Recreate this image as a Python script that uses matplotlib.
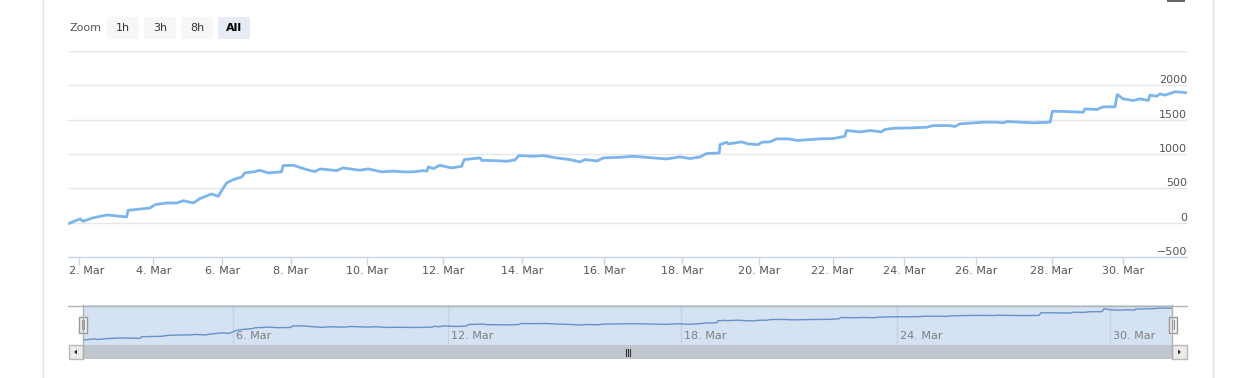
import numpy as np
import matplotlib
matplotlib.use('Agg')
import matplotlib.pyplot as plt
from matplotlib.patches import Rectangle, Polygon
from matplotlib.lines import Line2D

# series: day of March (fractional) and value
days = [1.70, 1.73, 2.02, 2.10, 2.37, 2.74, 3.28, 3.32, 3.91, 4.05, 4.39, 4.68, 4.87, 5.16,
        5.35, 5.69, 5.88, 6.03, 6.13, 6.32, 6.57, 6.66, 6.91, 7.10, 7.34, 7.73, 7.78, 8.07,
        8.42, 8.64, 8.77, 9.21, 9.38, 9.82, 10.04, 10.39, 10.69, 10.95, 11.22, 11.48, 11.57,
        11.61, 11.74, 11.91, 12.21, 12.47, 12.53, 12.94, 12.98, 13.28, 13.62, 13.83, 13.93,
        14.28, 14.52, 14.85, 15.17, 15.41, 15.53, 15.82, 15.98, 16.40, 16.74, 17.26, 17.60,
        17.94, 18.20, 18.46, 18.63, 18.96, 18.98, 19.15, 19.19, 19.54, 19.71, 19.97, 20.07,
        20.29, 20.47, 20.79, 21.06, 21.11, 21.65, 22.02, 22.34, 22.39, 22.76, 23.05, 23.37,
        23.46, 23.70, 24.17, 24.63, 24.82, 25.28, 25.42, 25.56, 26.20, 26.55, 26.73, 26.82,
        27.52, 27.96, 28.02, 28.42, 28.88, 28.93, 29.26, 29.44, 29.77, 29.83, 30.00, 30.27,
        30.46, 30.69, 30.73, 30.92, 31.01, 31.14, 31.42, 31.60, 31.75]
values = [-15, -10, 55, 20, 70, 112, 83, 180, 214, 262, 287, 287, 320, 287,
          350, 418, 383, 506, 579, 627, 666, 725, 740, 763, 725, 740, 831, 836,
          773, 744, 783, 758, 797, 763, 783, 740, 750, 740, 740, 758, 750,
          812, 787, 836, 797, 821, 918, 943, 908, 904, 894, 914, 977,
          967, 977, 943, 918, 885, 918, 899, 943, 952, 967, 943, 928,
          958, 933, 958, 1006, 1016, 1137, 1171, 1147, 1176, 1147, 1137, 1171,
          1176, 1220, 1220, 1196, 1200, 1220, 1225, 1258, 1342, 1322, 1342, 1322,
          1356, 1375, 1380, 1390, 1414, 1414, 1400, 1439, 1463, 1463, 1454, 1473,
          1454, 1463, 1623, 1618, 1608, 1657, 1648, 1687, 1687, 1866, 1803, 1779,
          1803, 1779, 1856, 1842, 1876, 1856, 1906, 1900, 1890]

tick_days = list(range(2, 31, 2))
tick_labels = ['%d. Mar' % d for d in tick_days]
nav_tick_days = [6, 12, 18, 24, 30]
y_ticks = [-500, 0, 500, 1000, 1500, 2000]
zoom_buttons = ['1h', '3h', '8h', 'All']

# highstock ordinal axis: position follows the point count, not the clock
ord_days = [1.7, 2, 4, 6, 8, 10, 12, 14, 16, 18, 20, 22, 24, 26, 28, 30, 31.75]
ord_pos = [0, 11.3, 85.3, 154.3, 222.7, 298.7, 375.3, 453.7, 536.3, 614.3, 691.3,
           764.7, 836.0, 907.7, 983.7, 1055.3, 1119]


def fwd(d):
    return np.interp(d, ord_days, ord_pos)


def inv(o):
    return np.interp(o, ord_pos, ord_days)


W, H = 1257, 378
PT = 72 / 100.0  # points per pixel
fig = plt.figure(figsize=(W / 100, H / 100), dpi=100)
fig.patch.set_facecolor('white')


def box(x0, y0, x1, y1, **kw):
    r = Rectangle((x0 / W, 1 - y1 / H), (x1 - x0) / W, (y1 - y0) / H,
                  transform=fig.transFigure, **kw)
    fig.add_artist(r)
    return r


def hline(x0, x1, y, **kw):
    fig.add_artist(Line2D([x0 / W, x1 / W], [1 - y / H, 1 - y / H],
                          transform=fig.transFigure, **kw))


def vline(x, y0, y1, **kw):
    fig.add_artist(Line2D([x / W, x / W], [1 - y0 / H, 1 - y1 / H],
                          transform=fig.transFigure, **kw))


# container borders
vline(43.5, 0, H, color='#e3e3e3', lw=1)
vline(1212.5, 0, H, color='#e3e3e3', lw=1)
# export menu icon (cut off at top)
box(1167, -2, 1185, 1.5, fc='#666666', ec='none')

# ---- main chart
ax = fig.add_axes([68 / W, 1 - 257 / H, 1119 / W, 206 / H])
ax.set_xscale('function', functions=(fwd, inv))
ax.set_xlim(1.7, 31.75)
ax.set_ylim(-500, 2500)
for v in range(-500, 3000, 500):
    ax.axhline(v, color='#e6e6e6', lw=1, zorder=0)
for v in y_ticks:
    ax.annotate(str(v).replace('-', '\u2212'), xy=(1, v), xycoords=('axes fraction', 'data'),
                xytext=(0, 2 * PT), textcoords='offset points',
                ha='right', va='baseline', fontsize=8, color='#555555')
ax.plot(days, values, color='#7cb5ec', lw=2, solid_joinstyle='round', zorder=3)

for s in ['top', 'left', 'right']:
    ax.spines[s].set_visible(False)
ax.spines['bottom'].set_color('#ccd6eb')
ax.spines['bottom'].set_linewidth(1)
ax.set_yticks([])
ax.set_xticks(tick_days)
ax.set_xticklabels([''] + tick_labels[1:])
ax.xaxis.set_minor_locator(matplotlib.ticker.NullLocator())
ax.tick_params(axis='x', length=8 * PT, width=1, color='#ccd6eb',
               labelcolor='#555555', labelsize=8, pad=1)
# first label is pushed right to stay inside the plot
ax.annotate(tick_labels[0], xy=(0, 0), xycoords='axes fraction',
            xytext=(1 * PT, -(8 + 1.4) * PT), textcoords='offset points',
            ha='left', va='top', fontsize=8, color='#555555')

# ---- range selector
fig.text(69 / W, 1 - 28 / H, 'Zoom', ha='left', va='center', fontsize=8, color='#555555')
bx = 107
for lab in zoom_buttons:
    sel = lab == 'All'
    box(bx, 17, bx + 32, 39, fc='#e6ebf5' if sel else '#f7f7f7', ec='none')
    fig.text((bx + 16) / W, 1 - 28 / H, lab, ha='center', va='center', fontsize=8,
             color='black' if sel else '#333333', fontweight='bold' if sel else 'normal')
    bx += 37

# ---- navigator
nav = fig.add_axes([83 / W, 1 - 345 / H, 1089 / W, 40 / H])
nav.set_facecolor('#d4e2f4')
nav.set_xscale('function', functions=(fwd, inv))
nav.set_xlim(1.7, 31.75)
nav.set_ylim(-315, 2090)
for d in nav_tick_days:
    nav.axvline(d, color='#c3d2e7', lw=1, zorder=1)
    nav.annotate('%d. Mar' % d, xy=(d, 0.225), xycoords=('data', 'axes fraction'),
                 xytext=(3 * PT, 0), textcoords='offset points',
                 ha='left', va='center', fontsize=8, color='#7f7f7f')
nav.plot(days, values, color='#6990c8', lw=1, zorder=3)
nav.set_xticks([])
nav.set_yticks([])
nav.xaxis.set_minor_locator(matplotlib.ticker.NullLocator())
for s in nav.spines.values():
    s.set_visible(False)

# scrollbar
box(83, 345, 1172, 358.5, fc='#bfc6ce', ec='none')
box(68.5, 345, 83, 358.5, fc='#ebebeb', ec='#b8b8b8', lw=1)
box(1172, 345, 1186.5, 358.5, fc='#ebebeb', ec='#b8b8b8', lw=1)
fig.add_artist(Polygon([[74 / W, 1 - 352 / H], [77 / W, 1 - 349.5 / H], [77 / W, 1 - 354.5 / H]],
                       closed=True, transform=fig.transFigure, fc='#333333', ec='none'))
fig.add_artist(Polygon([[1181 / W, 1 - 352 / H], [1178 / W, 1 - 349.5 / H], [1178 / W, 1 - 354.5 / H]],
                       closed=True, transform=fig.transFigure, fc='#333333', ec='none'))
for rx in [625.5, 627.5, 629.5]:
    vline(rx, 349, 355.5, color='#333333', lw=0.8)

# outline
hline(68, 1187, 305.5, color='#b2b2b2', lw=1)
vline(83, 305, 358.5, color='#b2b2b2', lw=1)
vline(1172, 305, 358.5, color='#b2b2b2', lw=1)

# handles
for hx in [82.5, 1172.5]:
    box(hx - 4, 316.5, hx + 4, 332.5, fc='#f2f2f2', ec='#999999', lw=1)
    vline(hx - 1, 320, 329, color='#999999', lw=0.8)
    vline(hx + 1, 320, 329, color='#999999', lw=0.8)

fig.savefig('out.png', dpi=100, facecolor='white')
